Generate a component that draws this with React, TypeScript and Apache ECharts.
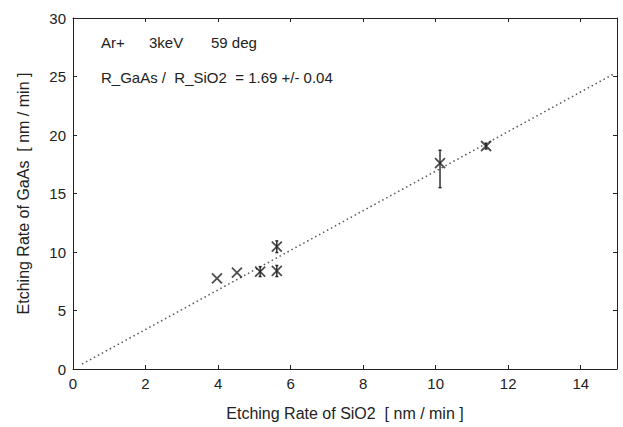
import React, { useEffect, useRef } from "react";
import * as echarts from "echarts";

const xVals = [3.97, 4.52, 5.16, 5.62, 5.62, 10.12, 11.39];
const yVals = [7.75, 8.23, 8.32, 10.45, 8.38, 17.6, 19.06];
const errLow = [7.75, 8.23, 7.9, 9.95, 7.9, 15.5, 18.8];
const errHigh = [7.75, 8.23, 8.75, 10.95, 8.85, 18.7, 19.3];
const fitX = [0.25, 14.9];
const fitY = [0.42, 25.2];
const xTicks = [0, 2, 4, 6, 8, 10, 12, 14];
const yTicks = [0, 5, 10, 15, 20, 25, 30];
const annotation1 = ["Ar+", "3keV", "59 deg"];
const annotation2 = "R_GaAs /  R_SiO2  = 1.69 +/- 0.04";

const FONT = "'Liberation Sans', Arial, Helvetica, sans-serif";
const INK = "#222";

export default function App() {
  const ref = useRef<HTMLDivElement>(null);
  useEffect(() => {
    if (!ref.current) return;
    const chart = echarts.init(ref.current, null, { renderer: "svg" });
    const points = xVals.map((x, i) => [x, yVals[i]]);
    const errData = xVals.map((x, i) => [x, errLow[i], errHigh[i]]);
    const fitData = fitX.map((x, i) => [x, fitY[i]]);
    const axisCommon = {
      axisLine: { show: true, onZero: false, lineStyle: { color: INK, width: 1 } },
      axisTick: { show: true, inside: true, length: 4, lineStyle: { color: INK } },
      splitLine: { show: false },
    };
    chart.setOption({
      animation: false,
      backgroundColor: "#fff",
      textStyle: { fontFamily: FONT },
      grid: { left: 73, right: 6, top: 18, bottom: 58 },
      xAxis: [
        {
          type: "value",
          min: 0,
          max: 15,
          interval: 2,
          position: "bottom",
          ...axisCommon,
          axisLabel: {
            color: INK,
            fontSize: 15,
            fontFamily: FONT,
            margin: 7,
            formatter: (v: number) => (xTicks.includes(v) ? String(v) : ""),
          },
          name: "Etching Rate of SiO2  [ nm / min ]",
          nameLocation: "middle",
          nameGap: 36,
          nameTextStyle: { color: INK, fontSize: 16, fontFamily: FONT },
        },
        {
          type: "value",
          min: 0,
          max: 15,
          interval: 2,
          position: "top",
          ...axisCommon,
          axisLabel: { show: false },
        },
      ],
      yAxis: [
        {
          type: "value",
          min: 0,
          max: 30,
          interval: 5,
          position: "left",
          ...axisCommon,
          axisLabel: {
            color: INK,
            fontSize: 15,
            fontFamily: FONT,
            margin: 7,
            formatter: (v: number) => (yTicks.includes(v) ? String(v) : ""),
          },
          name: "Etching Rate of GaAs  [ nm / min ]",
          nameLocation: "middle",
          nameGap: 42,
          nameTextStyle: { color: INK, fontSize: 16, fontFamily: FONT },
        },
        {
          type: "value",
          min: 0,
          max: 30,
          interval: 5,
          position: "right",
          ...axisCommon,
          axisLabel: { show: false },
        },
      ],
      graphic: [
        {
          type: "text",
          left: 101,
          top: 35,
          style: { text: annotation1[0], font: `15px ${FONT}`, fill: INK },
        },
        {
          type: "text",
          left: 149,
          top: 35,
          style: { text: annotation1[1], font: `15px ${FONT}`, fill: INK },
        },
        {
          type: "text",
          left: 211,
          top: 35,
          style: { text: annotation1[2], font: `15px ${FONT}`, fill: INK },
        },
        {
          type: "text",
          left: 101,
          top: 70,
          style: { text: annotation2, font: `15px ${FONT}`, fill: INK },
        },
      ],
      series: [
        {
          type: "line",
          data: fitData,
          showSymbol: false,
          symbol: "none",
          lineStyle: { color: "#555", width: 1.5, type: [1.5, 3] },
          z: 1,
        },
        {
          type: "custom",
          data: errData,
          z: 2,
          renderItem: (params: any, api: any) => {
            const x = api.value(0);
            const lo = api.coord([x, api.value(1)]);
            const hi = api.coord([x, api.value(2)]);
            if (Math.abs(lo[1] - hi[1]) < 1) return { type: "group", children: [] };
            const style = { stroke: INK, lineWidth: 1.4 };
            return {
              type: "group",
              children: [
                { type: "line", shape: { x1: lo[0], y1: lo[1], x2: hi[0], y2: hi[1] }, style },
                { type: "line", shape: { x1: lo[0] - 1.5, y1: lo[1], x2: lo[0] + 1.5, y2: lo[1] }, style },
                { type: "line", shape: { x1: hi[0] - 1.5, y1: hi[1], x2: hi[0] + 1.5, y2: hi[1] }, style },
              ],
            };
          },
        },
        {
          type: "scatter",
          data: points,
          symbol: "path://M0,0L10,10M10,0L0,10",
          symbolSize: 10,
          itemStyle: { color: "none", borderColor: INK, borderWidth: 1.8 },
          z: 3,
        },
      ],
    });
    return () => chart.dispose();
  }, []);
  return (
    <div
      ref={ref}
      style={{ position: "absolute", left: 0, top: 0, width: 623, height: 427 }}
    />
  );
}
